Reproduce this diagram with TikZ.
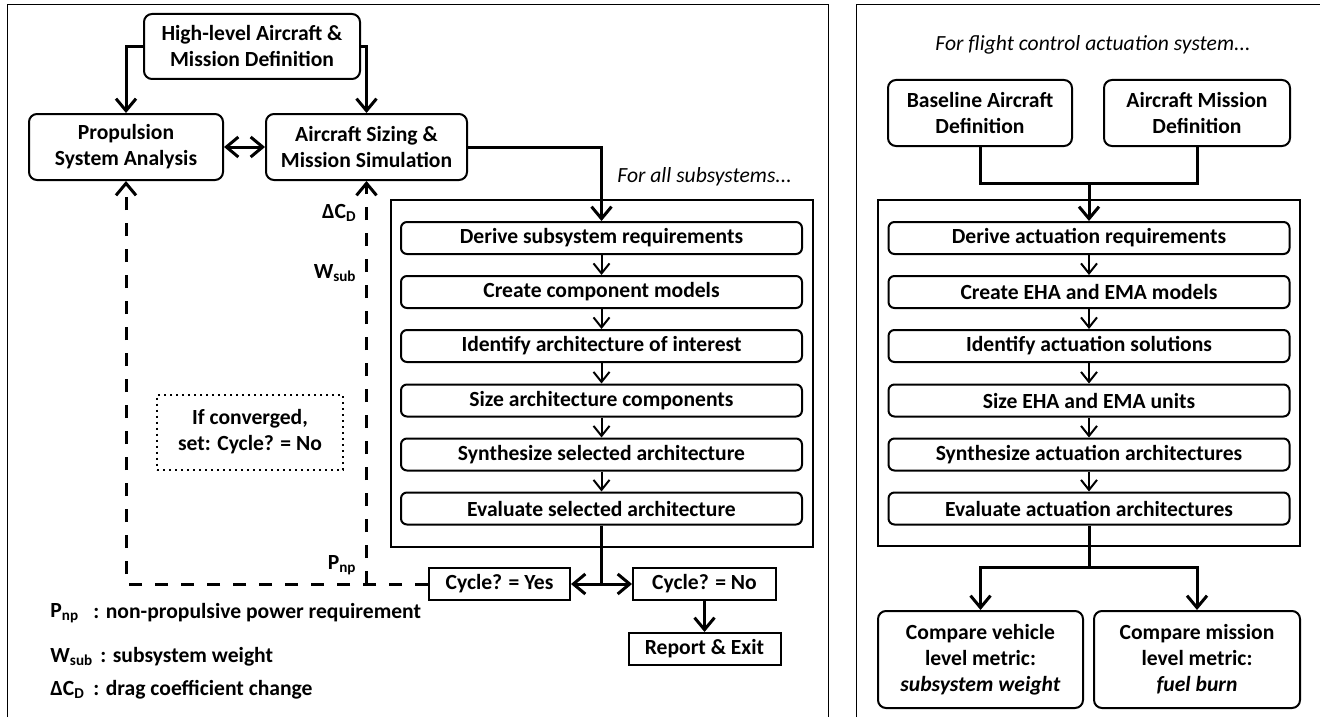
\documentclass[tikz,border=0pt]{standalone}
\usepackage{fontspec}
\setmainfont{Carlito}
\usetikzlibrary{arrows.meta}

\begin{document}
\begin{tikzpicture}[x=0.5pt,y=-0.5pt,
  font=\fontsize{10.8}{13}\selectfont\bfseries,
  rbox/.style={draw,line width=1pt,rounded corners=4pt,align=center,inner sep=1pt},
  stepbox/.style={draw,line width=1pt,rounded corners=3pt,minimum width=200.5pt,minimum height=16pt,inner sep=1pt},
  sqbox/.style={draw,line width=1pt,minimum height=16pt,inner sep=1pt},
  link/.style={line width=1.5pt,-{Straight Barb[length=6pt,width=10pt]}},
  steplink/.style={line width=1pt,-{Straight Barb[length=5pt,width=8pt]}},
  feedback/.style={line width=1.5pt,dash pattern=on 6.5pt off 6.5pt,-{Straight Barb[length=6pt,width=10pt]}},
  lbl/.style={inner sep=0pt},
  panel/.style={line width=0.5pt}]
\useasboundingbox (0,0) rectangle (1320,717);
\draw[panel] (7,717) |- (828,5) -- (828,717);
\draw[panel] (856,717) |- (1320,5);

% left panel: subsystem loop
\node[rbox,minimum width=108pt,minimum height=32.5pt] (hl) at (252,46.5) {High-level Aircraft \&\\Mission Definition};
\node[rbox,minimum width=97pt,minimum height=33pt] (prop) at (126,147) {Propulsion\\System Analysis};
\node[rbox,minimum width=100.5pt,minimum height=33pt] (sizing) at (366.5,147) {Aircraft Sizing \&\\Mission Simulation};
\draw[line width=1pt] (391,200) rectangle (813,547);
\node[lbl,anchor=west,font=\fontsize{10.8}{13}\selectfont\itshape] (allsub) at (617,177) {For all subsystems...};
\node[stepbox] (s1) at (601.5,238) {Derive subsystem requirements};
\node[stepbox] (s2) at (601.5,292) {Create component models};
\node[stepbox] (s3) at (601.5,346) {Identify architecture of interest};
\node[stepbox] (s4) at (601.5,400.5) {Size architecture components};
\node[stepbox] (s5) at (601.5,454.5) {Synthesize selected architecture};
\node[stepbox] (s6) at (601.5,508.5) {Evaluate selected architecture};
\node[sqbox,minimum width=70.5pt] (yes) at (499.5,584) {Cycle? = Yes};
\node[sqbox,minimum width=71.5pt] (no) at (704.5,584) {Cycle? = No};
\node[sqbox,minimum width=76pt] (report) at (704.5,649) {Report \& Exit};
\coordinate (split) at (601.5,584);
\node[draw,dotted,line width=1pt,minimum width=93pt,minimum height=37.5pt,align=center] (conv) at (250,432) {If converged,\\set: Cycle? = No};

\draw[link] (hl.west) -| (prop.north);
\draw[link] (hl.east) -| (sizing.north);
\draw[link,{Straight Barb[length=6pt,width=10pt]}-{Straight Barb[length=6pt,width=10pt]}] (prop) -- (sizing);
\draw[link] (sizing.east) -| (s1.north);
\draw[steplink] (s1) -- (s2);
\draw[steplink] (s2) -- (s3);
\draw[steplink] (s3) -- (s4);
\draw[steplink] (s4) -- (s5);
\draw[steplink] (s5) -- (s6);
\draw[line width=1.5pt] (s6.south) -- (split);
\draw[link] (split) -- (yes.east);
\draw[link] (split) -- (no.west);
\draw[link] (no) -- (report);
\draw[feedback] (yes.west) -| (prop.south);
\draw[feedback] (yes.west -| sizing.south) -- (sizing.south);

\node[lbl,anchor=east] (dcd) at (357,213) {ΔC\textsubscript{D}};
\node[lbl,anchor=east] (wsub) at (357,273) {W\textsubscript{sub}};
\node[lbl,anchor=east] (pnp) at (357,565) {P\textsubscript{np}};

% legend
\node[lbl,anchor=west] (kp) at (50,613) {P\textsubscript{np}};
\node[lbl,anchor=west] (kpt) at (93,613) {: non-propulsive power requirement};
\node[lbl,anchor=west] (kw) at (50,657) {W\textsubscript{sub}};
\node[lbl,anchor=west] (kwt) at (100,657) {: subsystem weight};
\node[lbl,anchor=west] (kd) at (50,690) {ΔC\textsubscript{D}};
\node[lbl,anchor=west] (kdt) at (93,690) {: drag coefficient change};

% right panel: flight control actuation
\node[lbl,font=\fontsize{10.8}{13}\selectfont\itshape] (fcas) at (1093,45) {For flight control actuation system...};
\node[rbox,minimum width=92pt,minimum height=33pt] (base) at (980,113) {Baseline Aircraft\\Definition};
\node[rbox,minimum width=93pt,minimum height=33pt] (miss) at (1197,113) {Aircraft Mission\\Definition};
\coordinate (merge) at (1089,183);
\draw[line width=1pt] (878,200) rectangle (1300,546);
\node[stepbox] (a1) at (1089,238) {Derive actuation requirements};
\node[stepbox] (a2) at (1089,292) {Create EHA and EMA models};
\node[stepbox] (a3) at (1089,346) {Identify actuation solutions};
\node[stepbox] (a4) at (1089,400.5) {Size EHA and EMA units};
\node[stepbox] (a5) at (1089,454.5) {Synthesize actuation architectures};
\node[stepbox] (a6) at (1089,508.5) {Evaluate actuation architectures};
\coordinate (fork) at (1089,567);
\node[rbox,minimum width=102.5pt,minimum height=48.5pt] (cveh) at (980.5,659.5) {Compare vehicle\\level metric:\\\textit{subsystem weight}};
\node[rbox,minimum width=103pt,minimum height=48.5pt] (cmis) at (1197,659.5) {Compare mission\\level metric:\\\textit{fuel burn}};

\draw[line width=1.5pt] (base.south) |- (merge) -| (miss.south);
\draw[link] (merge) -- (a1.north);
\draw[steplink] (a1) -- (a2);
\draw[steplink] (a2) -- (a3);
\draw[steplink] (a3) -- (a4);
\draw[steplink] (a4) -- (a5);
\draw[steplink] (a5) -- (a6);
\draw[line width=1.5pt] (a6.south) -- (fork);
\draw[link] (fork) -| (cveh.north);
\draw[link] (fork) -| (cmis.north);
\end{tikzpicture}
\end{document}
